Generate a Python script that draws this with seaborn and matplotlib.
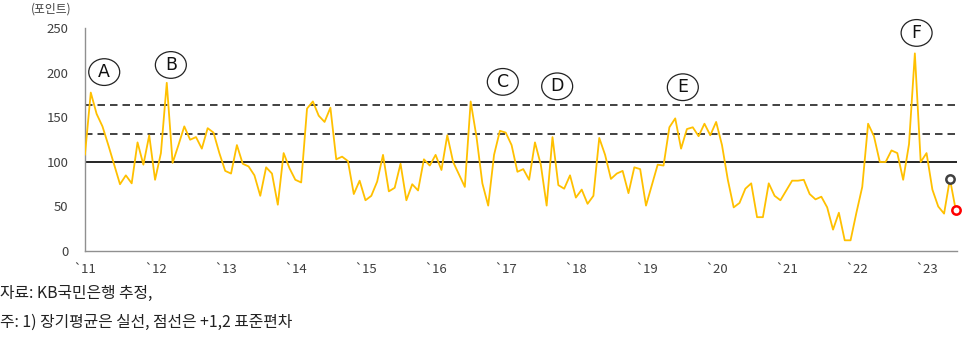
import matplotlib
matplotlib.use("Agg")
import matplotlib.pyplot as plt
from matplotlib.patches import Ellipse
import seaborn as sns
import numpy as np
import pandas as pd

# ---- data ----
values = [
    108, 178, 154, 140, 119, 97, 75, 85, 76, 122, 97, 130,    # 2011
    80, 110, 189, 99, 119, 140, 125, 128, 115, 138, 133, 110, # 2012
    90, 87, 119, 98, 95, 85, 62, 94, 87, 52, 110, 93,         # 2013
    80, 77, 160, 168, 152, 145, 161, 103, 106, 101, 64, 79,   # 2014
    57, 62, 78, 108, 67, 71, 98, 57, 75, 68, 103, 96,         # 2015
    108, 91, 130, 100, 86, 72, 168, 128, 76, 51, 108, 135,    # 2016
    133, 119, 89, 92, 80, 122, 97, 51, 128, 74, 70, 85,       # 2017
    60, 69, 53, 62, 127, 108, 81, 87, 90, 65, 94, 92,         # 2018
    51, 74, 97, 96, 139, 149, 115, 137, 139, 129, 143, 130,   # 2019
    145, 119, 80, 49, 54, 70, 76, 38, 38, 76, 62, 57,         # 2020
    68, 79, 79, 80, 64, 58, 61, 49, 24, 43, 12, 12,           # 2021
    43, 72, 143, 129, 100, 100, 113, 110, 80, 120, 222, 100,  # 2022
    110, 69, 50, 42, 81, 46,                                  # 2023
]
months = list(range(len(values)))
year_labels = ["`11", "`12", "`13", "`14", "`15", "`16", "`17", "`18", "`19", "`20", "`21", "`22", "`23"]
year_ticks = [12 * i for i in range(len(year_labels))]
long_mean = 100
sd_lines = [132, 164]
ann_letters = ["A", "B", "C", "D", "E", "F"]
ann_x = [3.3, 14.7, 71.5, 80.8, 102.3, 142.3]
ann_y = [201, 209, 190, 185, 184, 245]
highlight_black = 148
highlight_red = 149

# ---- style ----
sns.set_style("white")
plt.rcParams["font.family"] = ["Noto Sans CJK KR", "DejaVu Sans"]

fig = plt.figure(figsize=(9.63, 3.39), dpi=100)
ax = fig.add_axes([0.0882, 0.2596, 0.9055, 0.6564])

df = pd.DataFrame({"month": months, "value": values})
sns.lineplot(data=df, x="month", y="value", ax=ax, color="#FFC000", linewidth=1.3, zorder=3)

ax.axhline(long_mean, color="black", linewidth=1.2, zorder=2)
for v in sd_lines:
    ax.axhline(v, color="#222222", linewidth=1.2, linestyle=(0, (4.5, 3)), zorder=2)

ax.plot([months[highlight_black]], [values[highlight_black]], marker="o", markersize=6,
        markerfacecolor="white", markeredgecolor="#404040", markeredgewidth=1.8,
        linestyle="none", zorder=5, clip_on=False)
ax.plot([months[highlight_red]], [values[highlight_red]], marker="o", markersize=6,
        markerfacecolor="white", markeredgecolor="#FF0000", markeredgewidth=1.8,
        linestyle="none", zorder=5, clip_on=False)

for letter, x, y in zip(ann_letters, ann_x, ann_y):
    e = Ellipse((x, y), width=5.3, height=30, facecolor="white", edgecolor="#222222",
                linewidth=0.9, zorder=6, clip_on=False)
    ax.add_patch(e)
    ax.text(x, y, letter, ha="center", va="center", fontsize=12.5, color="#111111",
            family=["DejaVu Sans"], zorder=7, clip_on=False)

ax.set_xlim(0, 149.2)
ax.set_ylim(0, 250)
ax.set_yticks([0, 50, 100, 150, 200, 250])
ax.set_xticks(year_ticks)
ax.set_xticklabels(year_labels)
ax.set_xlabel("")
ax.set_ylabel("")

for s in ["top", "right"]:
    ax.spines[s].set_visible(False)
for s in ["left", "bottom"]:
    ax.spines[s].set_color("#909090")
    ax.spines[s].set_linewidth(1.0)
ax.tick_params(axis="both", direction="out", length=4, width=1.0, color="#909090",
               labelsize=9.5, labelcolor="#404040", pad=3)
ax.tick_params(axis="y", pad=8)
ax.tick_params(axis="x", pad=5)

fig.text(0.053, 0.973, "(포인트)", ha="center", va="center", fontsize=8.5, color="#404040")
fig.text(0.0, 0.133, "자료: KB국민은행 추정,", ha="left", va="center", fontsize=11.4, color="#222222")
fig.text(0.0, 0.05, "주: 1) 장기평균은 실선, 점선은 +1,2 표준편차", ha="left", va="center", fontsize=11.4, color="#222222")

fig.savefig("out.png", dpi=100)
